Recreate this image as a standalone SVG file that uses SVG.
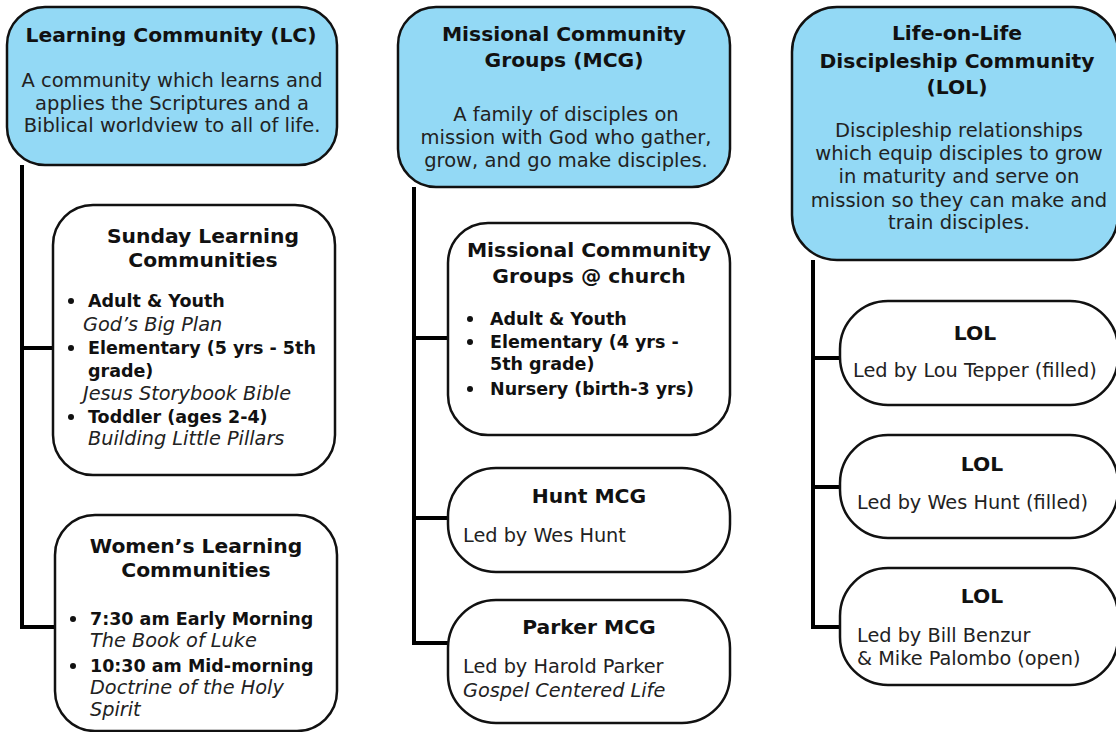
<svg xmlns="http://www.w3.org/2000/svg" width="1116" height="732" viewBox="0 0 1116 732">
<style>
  .main { fill: #93d9f5; stroke: #111; stroke-width: 2.5; }
  .sub { fill: #ffffff; stroke: #111; stroke-width: 2.5; }
  .conn { fill: none; stroke: #000; stroke-width: 4; stroke-linejoin: miter; }
  text { font-family: "DejaVu Sans", "Noto Sans", "Liberation Sans", sans-serif; fill: #111; }
  .t { font-size: 20.3px; font-weight: 700; text-anchor: middle; }
  .d { font-size: 19.5px; font-weight: 400; text-anchor: middle; fill: #222; }
  .b { font-size: 17.5px; font-weight: 700; }
  .i { font-size: 19.3px; font-style: italic; fill: #222; }
  .r { font-size: 19.3px; font-weight: 400; fill: #222; }
  .dot { fill: #111; }
</style>
<rect x="0" y="0" width="1116" height="732" fill="#ffffff"/>
<g id="connectors">
  <path class="conn" d="M22,165 V627 H55 M22,348 H53"/>
  <path class="conn" d="M414,187 V643 H448 M414,338 H448 M414,518 H448"/>
  <path class="conn" d="M813,260 V627 H840 M813,358 H840 M813,487 H840"/>
</g>
<g id="lc">
  <rect class="main" x="7" y="7" width="330" height="158" rx="38"/>
  <text class="t" x="171" y="42">Learning Community (LC)</text>
  <text class="d" x="172" y="87">A community which learns and</text>
  <text class="d" x="172" y="110">applies the Scriptures and a</text>
  <text class="d" x="172" y="132">Biblical worldview to all of life.</text>
</g>
<g id="sunday">
  <rect class="sub" x="53" y="205" width="282" height="270" rx="40"/>
  <text class="t" x="203" y="243">Sunday Learning</text>
  <text class="t" x="203" y="267">Communities</text>
  <circle class="dot" cx="71" cy="301" r="3"/>
  <text class="b" x="88" y="307">Adult &amp; Youth</text>
  <text class="i" x="83" y="331">God’s Big Plan</text>
  <circle class="dot" cx="71" cy="348" r="3"/>
  <text class="b" x="88" y="354">Elementary (5 yrs - 5th</text>
  <text class="b" x="88" y="377">grade)</text>
  <text class="i" x="83" y="400">Jesus Storybook Bible</text>
  <circle class="dot" cx="71" cy="417" r="3"/>
  <text class="b" x="88" y="423">Toddler (ages 2-4)</text>
  <text class="i" x="88" y="445">Building Little Pillars</text>
</g>
<g id="womens">
  <rect class="sub" x="55" y="515" width="282" height="216" rx="40"/>
  <text class="t" x="196" y="553">Women’s Learning</text>
  <text class="t" x="196" y="577">Communities</text>
  <circle class="dot" cx="73" cy="619" r="3"/>
  <text class="b" x="90" y="625">7:30 am Early Morning</text>
  <text class="i" x="90" y="647">The Book of Luke</text>
  <circle class="dot" cx="73" cy="666" r="3"/>
  <text class="b" x="90" y="672">10:30 am Mid-morning</text>
  <text class="i" x="90" y="694">Doctrine of the Holy</text>
  <text class="i" x="90" y="716">Spirit</text>
</g>
<g id="mcg">
  <rect class="main" x="398" y="7" width="332" height="180" rx="38"/>
  <text class="t" x="564" y="41">Missional Community</text>
  <text class="t" x="564" y="67">Groups (MCG)</text>
  <text class="d" x="566" y="121">A family of disciples on</text>
  <text class="d" x="566" y="144">mission with God who gather,</text>
  <text class="d" x="566" y="167">grow, and go make disciples.</text>
</g>
<g id="mcg-church">
  <rect class="sub" x="448" y="223" width="282" height="212" rx="40"/>
  <text class="t" x="589" y="257">Missional Community</text>
  <text class="t" x="589" y="283">Groups @ church</text>
  <circle class="dot" cx="470" cy="319" r="3"/>
  <text class="b" x="490" y="325">Adult &amp; Youth</text>
  <circle class="dot" cx="470" cy="342" r="3"/>
  <text class="b" x="490" y="348">Elementary (4 yrs -</text>
  <text class="b" x="490" y="370">5th grade)</text>
  <circle class="dot" cx="470" cy="389" r="3"/>
  <text class="b" x="490" y="395">Nursery (birth-3 yrs)</text>
</g>
<g id="hunt-mcg">
  <rect class="sub" x="448" y="468" width="282" height="104" rx="48"/>
  <text class="t" x="589" y="503">Hunt MCG</text>
  <text class="r" x="463" y="542">Led by Wes Hunt</text>
</g>
<g id="parker-mcg">
  <rect class="sub" x="448" y="600" width="282" height="123" rx="48"/>
  <text class="t" x="589" y="634">Parker MCG</text>
  <text class="r" x="463" y="673">Led by Harold Parker</text>
  <text class="i" x="463" y="697">Gospel Centered Life</text>
</g>
<g id="lol">
  <rect class="main" x="792" y="7" width="326" height="253" rx="45"/>
  <text class="t" x="957" y="40">Life-on-Life</text>
  <text class="t" x="957" y="68">Discipleship Community</text>
  <text class="t" x="957" y="94">(LOL)</text>
  <text class="d" x="959" y="137">Discipleship relationships</text>
  <text class="d" x="959" y="160">which equip disciples to grow</text>
  <text class="d" x="959" y="183">in maturity and serve on</text>
  <text class="d" x="959" y="207">mission so they can make and</text>
  <text class="d" x="959" y="229">train disciples.</text>
</g>
<g id="lol-1">
  <rect class="sub" x="840" y="301" width="278" height="104" rx="48"/>
  <text class="t" x="975" y="340">LOL</text>
  <text class="r" x="853" y="377">Led by Lou Tepper (filled)</text>
</g>
<g id="lol-2">
  <rect class="sub" x="840" y="435" width="278" height="103" rx="48"/>
  <text class="t" x="982" y="471">LOL</text>
  <text class="r" x="857" y="509">Led by Wes Hunt (filled)</text>
</g>
<g id="lol-3">
  <rect class="sub" x="840" y="568" width="278" height="117" rx="48"/>
  <text class="t" x="982" y="603">LOL</text>
  <text class="r" x="857" y="642">Led by Bill Benzur</text>
  <text class="r" x="857" y="665">&amp; Mike Palombo (open)</text>
</g>
</svg>
